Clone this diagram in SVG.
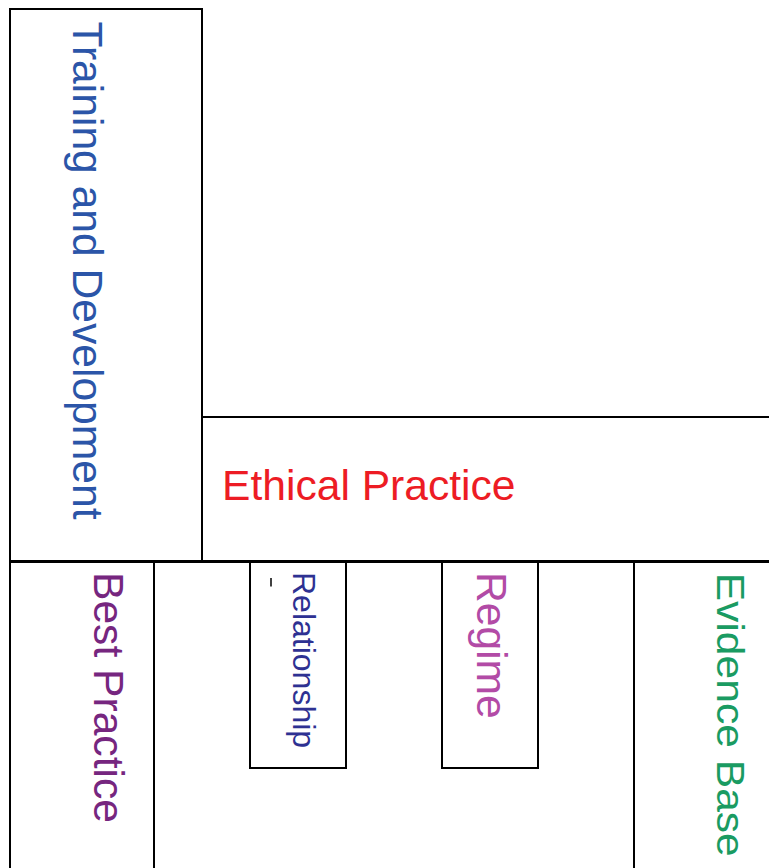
<svg xmlns="http://www.w3.org/2000/svg" width="769" height="868" viewBox="0 0 769 868">
<style>
.box{fill:none;stroke:#000;stroke-width:2}
.t{font-family:"Liberation Sans",Arial,sans-serif;font-size:42.6px}
</style>
<rect x="0" y="0" width="769" height="868" fill="#fff"/>
<g id="training">
<rect class="box" x="10" y="9" width="192" height="552"/>
<text class="t" fill="#2b55a8" transform="translate(72.7,21.5) rotate(90)">Training and Development</text>
</g>
<g id="ethical">
<rect class="box" x="202" y="417" width="580" height="144"/>
<text class="t" fill="#ed1c24" x="222" y="500">Ethical Practice</text>
</g>
<g id="frame">
<line class="box" x1="10" y1="562" x2="769" y2="562"/>
</g>
<g id="best">
<rect class="box" x="10" y="562" width="144" height="320"/>
<text class="t" fill="#76267f" transform="translate(94,572) rotate(90)">Best Practice</text>
</g>
<g id="relationship">
<rect class="box" x="250" y="562" width="96" height="206"/>
<line x1="271" y1="578" x2="271" y2="586.5" stroke="#000" stroke-width="1.5"/>
<text class="t" fill="#2e3192" style="font-size:32px" transform="translate(293.3,572) rotate(90)">Relationship</text>
</g>
<g id="regime">
<rect class="box" x="442" y="562" width="96" height="206"/>
<text class="t" fill="#b24ba6" transform="translate(476.7,572) rotate(90)">Regime</text>
</g>
<g id="evidence">
<rect class="box" x="634" y="562" width="150" height="320"/>
<text class="t" fill="#1a9b62" transform="translate(717.3,572.7) rotate(90) scale(1,0.9)">Evidence Base</text>
</g>
<g id="connectors"></g>
</svg>
